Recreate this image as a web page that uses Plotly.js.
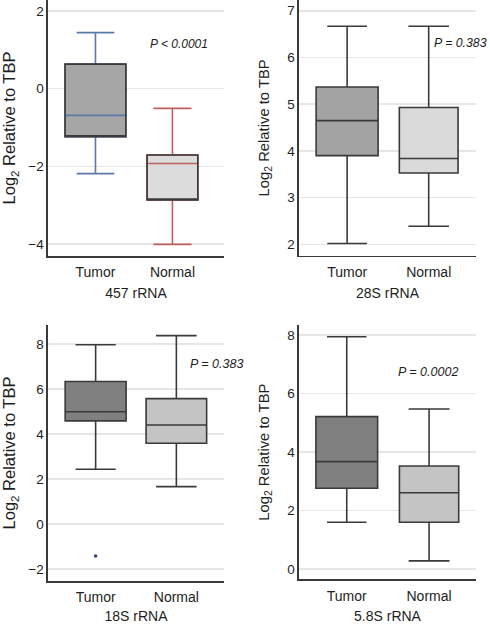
<!DOCTYPE html>
<html>
<head>
<meta charset="utf-8">
<script src="https://cdn.plot.ly/plotly-3.0.1.min.js"></script>
<style>
  html, body { margin: 0; padding: 0; background: #ffffff; }
  #chart { width: 490px; height: 624px; }
</style>
</head>
<body>
<div id="chart"></div>
<script>
// ---- data ----
const groups = ["Tumor", "Normal"];
const groupPos = [1, 2];

// [lowerfence, q1, median, q3, upperfence] per group
const rna457Tumor  = [-2.19, -1.24, -0.69, 0.63, 1.44];
const rna457Normal = [-4.01, -2.87, -1.93, -1.71, -0.51];

const rna28STumor  = [2.02, 3.90, 4.65, 5.37, 6.67];
const rna28SNormal = [2.39, 3.53, 3.84, 4.93, 6.67];

const rna18STumor  = [2.43, 4.58, 4.99, 6.33, 7.96];
const rna18SNormal = [1.66, 3.59, 4.40, 5.57, 8.37];
const rna18STumorOutliers = [-1.42];

const rna58STumor  = [1.60, 2.76, 3.67, 5.21, 7.94];
const rna58SNormal = [0.28, 1.60, 2.61, 3.52, 5.47];

const panelTitles = ["457 rRNA", "28S rRNA", "18S rRNA", "5.8S rRNA"];
const pValues = ["P < 0.0001", "P = 0.383", "P = 0.383", "P = 0.0002"];

// ---- helpers ----
const DARK = "#3a3a3a";
function boxTrace(stats, pos, axN, fill, lineColor, width, whisker, lw) {
  return {
    type: "box",
    x: [pos],
    lowerfence: [stats[0]], q1: [stats[1]], median: [stats[2]], q3: [stats[3]], upperfence: [stats[4]],
    xaxis: "x" + axN, yaxis: "y" + axN,
    fillcolor: fill,
    line: { color: lineColor, width: lw || 1.6 },
    width: width,
    whiskerwidth: whisker,
    boxpoints: false,
    hoverinfo: "skip",
    showlegend: false
  };
}
// outline overlay (dark box outline, no whiskers, median hidden on the Q1 edge)
function outlineTrace(stats, pos, axN, width) {
  return {
    type: "box",
    x: [pos],
    lowerfence: [stats[1]], q1: [stats[1]], median: [stats[1]], q3: [stats[3]], upperfence: [stats[3]],
    xaxis: "x" + axN, yaxis: "y" + axN,
    fillcolor: "rgba(0,0,0,0)",
    line: { color: DARK, width: 1.6 },
    width: width,
    whiskerwidth: 0,
    boxpoints: false,
    hoverinfo: "skip",
    showlegend: false
  };
}

const traces = [
  // panel 1 (colored whiskers/medians)
  boxTrace(rna457Tumor, groupPos[0], "", "#a6a6a6", "#5a78a8", 0.79, 0.62),
  outlineTrace(rna457Tumor, groupPos[0], "", 0.79),
  boxTrace(rna457Normal, groupPos[1], "", "#dcdcdc", "#c0605e", 0.66, 0.75),
  outlineTrace(rna457Normal, groupPos[1], "", 0.66),
  // panel 2
  boxTrace(rna28STumor, groupPos[0], "2", "#a3a3a3", DARK, 0.76, 0.64),
  boxTrace(rna28SNormal, groupPos[1], "2", "#dadada", DARK, 0.72, 0.69),
  // panel 3
  boxTrace(rna18STumor, groupPos[0], "3", "#808080", DARK, 0.755, 0.66),
  boxTrace(rna18SNormal, groupPos[1], "3", "#c4c4c4", DARK, 0.75, 0.67),
  {
    type: "scatter", mode: "markers",
    x: rna18STumorOutliers.map(() => groupPos[0]), y: rna18STumorOutliers,
    xaxis: "x3", yaxis: "y3",
    marker: { color: "#2b3f7a", size: 3.5 },
    hoverinfo: "skip", showlegend: false
  },
  // panel 4
  boxTrace(rna58STumor, groupPos[0], "4", "#808080", DARK, 0.75, 0.64),
  boxTrace(rna58SNormal, groupPos[1], "4", "#c4c4c4", DARK, 0.72, 0.69)
];

const FONT = "Liberation Sans, Arial, Helvetica, sans-serif";
const TXT = "#1e1e1e";

function xAxis(domain, range, title, anchor) {
  return {
    domain: domain, range: range, anchor: anchor,
    tickmode: "array", tickvals: groupPos, ticktext: groups,
    showgrid: false, zeroline: false,
    showline: true, linecolor: DARK, linewidth: 1.6,
    ticks: "", ticklabelstandoff: 3,
    tickfont: { family: FONT, size: 14, color: TXT },
    title: { text: title, font: { family: FONT, size: 14, color: TXT }, standoff: 9 },
    automargin: false, fixedrange: true
  };
}
function yAxis(domain, range, dtick, tick0, anchor, titleSize, standoff) {
  return {
    domain: domain, range: range, anchor: anchor,
    tickmode: "linear", tick0: tick0, dtick: dtick,
    showgrid: true, gridcolor: "#e6e6e6", gridwidth: 1.5,
    zeroline: false,
    showline: true, linecolor: DARK, linewidth: 1.6,
    ticks: "", tickfont: { family: FONT, size: 13.5, color: TXT },
    title: { text: "Log<sub>2</sub> Relative to TBP", font: { family: FONT, size: titleSize, color: TXT }, standoff: standoff },
    automargin: false, fixedrange: true
  };
}

const W = 490, H = 624;
const dx = (a, b) => [a / W, b / W];
const dy = (top, bottom) => [1 - bottom / H, 1 - top / H];

const layout = {
  width: W, height: H,
  margin: { l: 0, r: 0, t: 0, b: 0 },
  paper_bgcolor: "#ffffff", plot_bgcolor: "#ffffff",
  boxmode: "overlay",
  showlegend: false,
  font: { family: FONT, color: TXT },
  xaxis:  xAxis(dx(48, 224), [0.383, 2.67], panelTitles[0], "y"),
  yaxis:  yAxis(dy(0, 256), [-4.31, 2.28], 2, 0, "x", 16.5, 8),
  xaxis2: xAxis(dx(299, 476), [0.41, 2.58], panelTitles[1], "y2"),
  yaxis2: yAxis(dy(0, 255.7), [1.76, 7.23], 1, 0, "x2", 14.8, 14),
  xaxis3: xAxis(dx(48, 224), [0.41, 2.59], panelTitles[2], "y3"),
  yaxis3: yAxis(dy(325, 581), [-2.53, 8.84], 2, 0, "x3", 16.5, 8),
  xaxis4: xAxis(dx(299, 476), [0.42, 2.57], panelTitles[3], "y4"),
  yaxis4: yAxis(dy(325, 579.3), [-0.35, 8.34], 2, 0, "x4", 14.8, 14),
  annotations: [
    { text: pValues[0], xref: "paper", yref: "paper", x: 179 / W, y: 1 - 44.3 / H, xanchor: "center", yanchor: "middle", showarrow: false, font: { family: FONT, size: 12, color: TXT, style: "italic" } },
    { text: pValues[1], xref: "paper", yref: "paper", x: 489 / W, y: 1 - 43 / H, xanchor: "right", yanchor: "middle", showarrow: false, font: { family: FONT, size: 12.3, color: TXT, style: "italic" } },
    { text: pValues[2], xref: "paper", yref: "paper", x: 188 / W, y: 1 - 364 / H, xanchor: "left", yanchor: "middle", showarrow: false, font: { family: FONT, size: 12.5, color: TXT, style: "italic" } },
    { text: pValues[3], xref: "paper", yref: "paper", x: 427.5 / W, y: 1 - 372 / H, xanchor: "center", yanchor: "middle", showarrow: false, font: { family: FONT, size: 12.5, color: TXT, style: "italic" } }
  ]
};

Plotly.newPlot("chart", traces, layout, { displayModeBar: false, staticPlot: true });
</script>
</body>
</html>
